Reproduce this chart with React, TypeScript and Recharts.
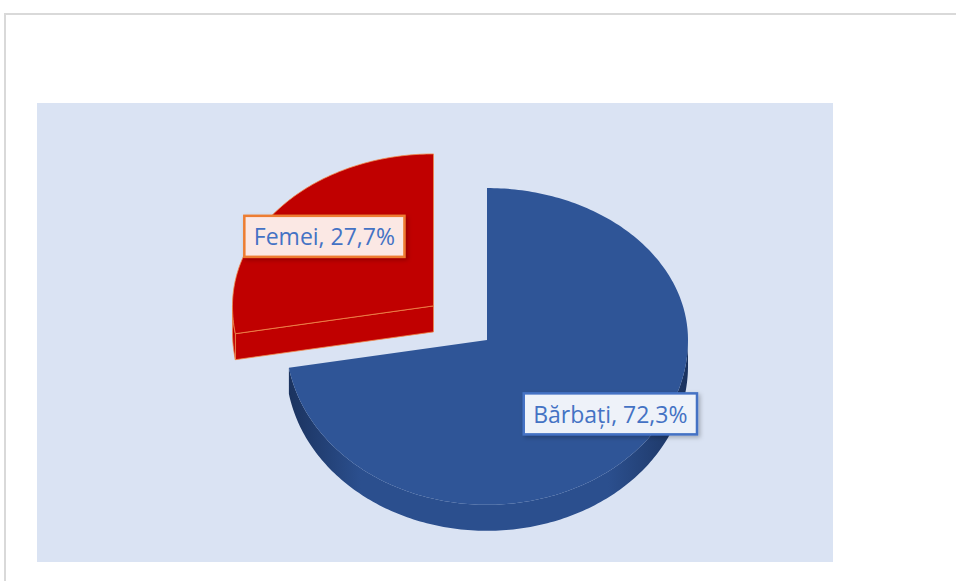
import { PieChart, Pie } from 'recharts';

const categories = ['Bărbați', 'Femei'];
const shares = [72.3, 27.7];
const topColors = ['#2f5597', '#c00000'];
const sideDark = ['#1b335f', '#a80000'];
const sideMid = ['#2b4f8e', '#c00000'];
const edgeColors = ['none', '#f08a4b'];
const labelBorders = ['#4472c4', '#ed7d31'];
const labelFills = ['#eef2f9', '#fbe8e4'];
const explodedCategory = 'Femei';

const data = categories.map((name, i) => ({ name, value: shares[i] }));

const RAD = Math.PI / 180;
const K_TOP = 0.756;
const K_BOT = 0.82;
const DEPTH = 26;
const EXPLODE = 70;
const LABEL_FONT = '23px "Open Sans"';

function project(cx: number, cy: number, r: number, deg: number): [number, number] {
  const s = Math.sin(deg * RAD);
  return [cx + r * Math.cos(deg * RAD), cy - r * s * (s > 0 ? K_TOP : K_BOT)];
}

function sliceName(props: any): string {
  return props.name ?? props.payload?.name ?? props.payload?.payload?.name;
}

function explodeOffset(name: string, midAngle: number): [number, number] {
  if (name !== explodedCategory) return [0, 0];
  return project(0, 0, EXPLODE, midAngle);
}

function anglesBetween(a: number, b: number): number[] {
  const out: number[] = [];
  const n = Math.max(2, Math.ceil(Math.abs(b - a)));
  for (let k = 0; k <= n; k++) out.push(a + ((b - a) * k) / n);
  // add exact half-turn crossings
  const lo = Math.min(a, b);
  const hi = Math.max(a, b);
  for (let m = Math.ceil(lo / 180) * 180; m <= hi; m += 180) out.push(m);
  return out.sort((x, y) => (a > b ? y - x : x - y));
}

const toPath = (pts: [number, number][]) =>
  pts.map((p, k) => `${k === 0 ? 'M' : 'L'}${p[0].toFixed(2)},${p[1].toFixed(2)}`).join(' ') + ' Z';

function Slice3D(props: any) {
  const { cx, cy, outerRadius, startAngle, endAngle } = props;
  const name = sliceName(props);
  const i = Math.max(0, categories.indexOf(name));
  const mid = (startAngle + endAngle) / 2;
  const [ox, oy] = explodeOffset(name, mid);
  const x0 = cx + ox;
  const y0 = cy + oy;
  const angles = anglesBetween(startAngle, endAngle);
  const gid = `side-${i}`;

  // runs of the front (visible) outer wall
  const runs: number[][] = [];
  let cur: number[] = [];
  angles.forEach((t) => {
    if (Math.sin(t * RAD) <= 1e-9) cur.push(t);
    else if (cur.length) {
      runs.push(cur);
      cur = [];
    }
  });
  if (cur.length) runs.push(cur);

  const walls = runs
    .filter((r) => r.length > 1)
    .map((r) => {
      const topPts = r.map((t) => project(x0, y0, outerRadius, t));
      const botPts = topPts.map(([x, y]) => [x, y + DEPTH] as [number, number]).reverse();
      return toPath([...topPts, ...botPts]);
    });

  const faces: string[] = [];
  const addFace = (t: number) => {
    const [ex, ey] = project(x0, y0, outerRadius, t);
    faces.push(toPath([[x0, y0], [ex, ey], [ex, ey + DEPTH], [x0, y0 + DEPTH]]));
  };
  if (Math.cos(startAngle * RAD) < -1e-6) addFace(startAngle);
  if (Math.cos(endAngle * RAD) > 1e-6) addFace(endAngle);

  const top = toPath([[x0, y0], ...angles.map((t) => project(x0, y0, outerRadius, t))]);
  const edge = edgeColors[i];

  return (
    <g>
      <defs>
        <linearGradient id={gid} x1="0" y1="0" x2="1" y2="0">
          <stop offset="0" stopColor={sideDark[i]} />
          <stop offset="0.18" stopColor={sideMid[i]} />
          <stop offset="0.8" stopColor={sideMid[i]} />
          <stop offset="1" stopColor={sideDark[i]} />
        </linearGradient>
      </defs>
      {faces.map((d, k) => (
        <path key={`f${k}`} d={d} fill={sideMid[i]} stroke={edge} strokeWidth={0.8} />
      ))}
      {walls.map((d, k) => (
        <path key={`w${k}`} d={d} fill={`url(#${gid})`} stroke={edge} strokeWidth={0.8} />
      ))}
      <path d={top} fill={topColors[i]} stroke={edge} strokeWidth={0.8} />
    </g>
  );
}

let measureCtx: CanvasRenderingContext2D | null = null;
function textWidth(text: string): number {
  if (!measureCtx && typeof document !== 'undefined') {
    measureCtx = document.createElement('canvas').getContext('2d');
  }
  if (!measureCtx) return text.length * 11.3;
  measureCtx.font = LABEL_FONT;
  return measureCtx.measureText(text).width;
}

function SliceLabel(props: any) {
  const { cx, cy, midAngle, outerRadius, value } = props;
  const name = sliceName(props);
  const i = Math.max(0, categories.indexOf(name));
  const [ox, oy] = explodeOffset(name, midAngle);
  const r = outerRadius * (name === explodedCategory ? 0.71 : 0.76);
  const [x, y] = project(cx + ox, cy + oy, r, midAngle + (name === explodedCategory ? 0 : 4));
  const text = `${name}, ${Number(value).toFixed(1).replace('.', ',')}%`;
  const w = textWidth(text) + 19;
  const h = 41;
  return (
    <g>
      <rect
        x={x - w / 2}
        y={y - h / 2}
        width={w}
        height={h}
        fill={labelFills[i]}
        stroke={labelBorders[i]}
        strokeWidth={2.5}
        filter="url(#labelShadow)"
      />
      <text
        x={x}
        y={y}
        textAnchor="middle"
        dominantBaseline="central"
        fill="#4472c4"
        style={{ font: LABEL_FONT }}
      >
        {text}
      </text>
    </g>
  );
}

export default function App() {
  return (
    <div style={{ position: 'absolute', left: 0, top: 0, width: 956, height: 581, overflow: 'hidden', background: '#fff' }}>
      <div
        style={{
          position: 'absolute',
          left: 4,
          top: 13,
          width: 1000,
          height: 700,
          border: '2px solid #d9d9d9',
          boxSizing: 'border-box',
        }}
      />
      <div style={{ position: 'absolute', left: 37, top: 103, width: 796, height: 459, background: '#dae3f3' }} />
      <div style={{ position: 'absolute', left: 0, top: 0 }}>
        <PieChart width={956} height={581} margin={{ top: 0, right: 0, bottom: 0, left: 0 }}>
          <defs>
            <filter id="labelShadow" x="-20%" y="-30%" width="140%" height="160%">
              <feDropShadow dx="2" dy="2" stdDeviation="2" floodColor="#000" floodOpacity="0.25" />
            </filter>
          </defs>
          <Pie
            data={data}
            dataKey="value"
            nameKey="name"
            cx={487}
            cy={340}
            outerRadius={201}
            startAngle={90}
            endAngle={-270}
            stroke="none"
            shape={(p: any) => <Slice3D {...p} />}
            label={(p: any) => <SliceLabel {...p} />}
            labelLine={false}
            isAnimationActive={false}
          />
        </PieChart>
      </div>
    </div>
  );
}
